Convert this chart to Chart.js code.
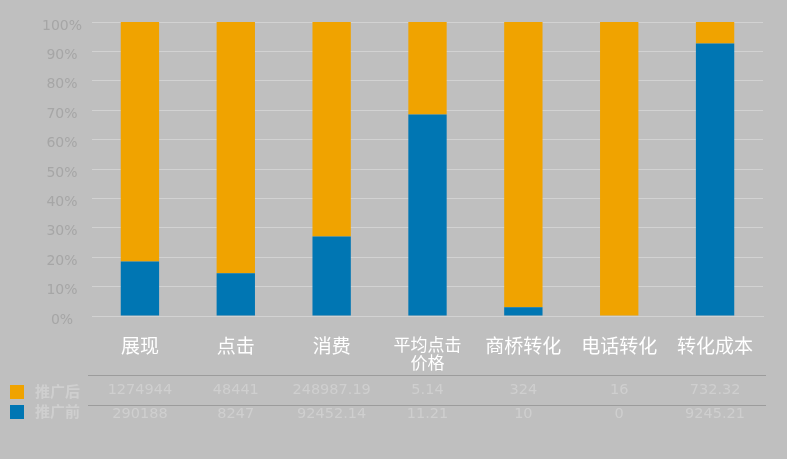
<!DOCTYPE html>
<html>
<head>
<meta charset="utf-8">
<script src="https://cdn.jsdelivr.net/npm/chart.js@4"></script>
<style>
  html, body { margin: 0; padding: 0; background: #bfbfbf; }
  #wrap { width: 787px; height: 459px; position: relative; }
</style>
</head>
<body>
<div id="wrap"><canvas id="chartContainer"></canvas></div>
<script>
// Data
const categories = ['展现', '点击', '消费', ['平均点击', '价格'], '商桥转化', '电话转化', '转化成本'];
const seriesNames = ['推广前', '推广后'];
const beforeValues = [290188, 8247, 92452.14, 11.21, 10, 0, 9245.21];
const afterValues = [1274944, 48441, 248987.19, 5.14, 324, 16, 732.32];
const yTicks = [0, 10, 20, 30, 40, 50, 60, 70, 80, 90, 100];

const blue = '#0076b3';
const orange = '#f0a300';
const cjk = '"Noto Sans CJK SC", "Noto Sans", sans-serif';
const latin = '"DejaVu Sans", sans-serif';

// share of each series in its column, in percent
function share(values, other) {
    return values.map((v, i) => {
        const total = v + other[i];
        return total === 0 ? 0 : v / total * 100;
    });
}

// Draws the data table under the x axis
const dataTable = {
    id: 'dataTable',
    afterDraw(chart) {
        const ctx = chart.ctx;
        const x = chart.scales.x;
        const rows = [
            { name: seriesNames[1], color: orange, values: afterValues, y: 390, box: 385 },
            { name: seriesNames[0], color: blue, values: beforeValues, y: 414, box: 405 }
        ];
        ctx.save();
        ctx.strokeStyle = '#9c9c9c';
        ctx.lineWidth = 1;
        [375.5, 405.5].forEach(yy => {
            ctx.beginPath();
            ctx.moveTo(88, yy);
            ctx.lineTo(766, yy);
            ctx.stroke();
        });
        ctx.textBaseline = 'middle';
        rows.forEach(row => {
            ctx.fillStyle = row.color;
            ctx.fillRect(10, row.box, 14, 14);
            ctx.fillStyle = '#cfcfcf';
            ctx.font = 'bold 15px ' + cjk;
            ctx.textAlign = 'left';
            ctx.fillText(row.name, 35, row.box + 6);
            ctx.font = '14.5px ' + latin;
            ctx.textAlign = 'center';
            row.values.forEach((v, i) => {
                ctx.fillText(String(v), x.getPixelForValue(i), row.y);
            });
        });
        ctx.restore();
    }
};

const ctx = document.getElementById('chartContainer').getContext('2d');
const chart = new Chart(ctx, {
    type: 'bar',
    data: {
        labels: categories,
        datasets: [{
            label: seriesNames[0],
            data: share(beforeValues, afterValues),
            backgroundColor: blue
        }, {
            label: seriesNames[1],
            data: share(afterValues, beforeValues),
            backgroundColor: orange
        }]
    },
    options: {
        responsive: true,
        maintainAspectRatio: false,
        animation: false,
        layout: { padding: { top: 22, right: 24, left: 0, bottom: 0 } },
        datasets: {
            bar: { barPercentage: 0.4, categoryPercentage: 1 }
        },
        plugins: {
            legend: { display: false },
            tooltip: { enabled: false }
        },
        scales: {
            x: {
                stacked: true,
                grid: { display: false },
                border: { color: '#d2d2d2' },
                ticks: {
                    color: '#ffffff',
                    font: c => ({ family: cjk, size: c.index === 3 ? 17 : 19, lineHeight: 1.05 }),
                    padding: 12,
                    maxRotation: 0
                },
                afterFit(scale) { scale.height = 143; }
            },
            y: {
                stacked: true,
                min: 0,
                max: 100,
                afterBuildTicks(scale) { scale.ticks = yTicks.map(v => ({ value: v })); },
                grid: { color: '#d2d2d2', drawTicks: false },
                border: { display: false },
                ticks: {
                    color: '#a6a6a6',
                    font: { family: latin, size: 14 },
                    padding: 10,
                    crossAlign: 'center',
                    labelOffset: 4,
                    callback: v => v + '%'
                },
                afterFit(scale) { scale.width = 92; }
            }
        }
    },
    plugins: [dataTable]
});
</script>
</body>
</html>
